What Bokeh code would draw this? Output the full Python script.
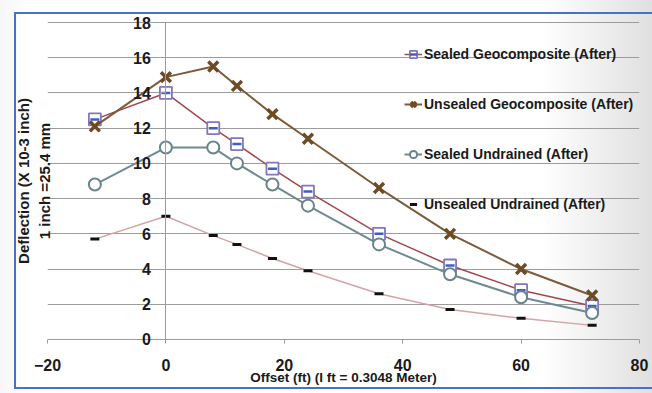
from bokeh.plotting import figure
from bokeh.models import LinearAxis, FixedTicker, Legend, LegendItem, Range1d
from bokeh.embed import file_html
from bokeh.resources import INLINE

# ---- data ----
offsets = [-12, 0, 8, 12, 18, 24, 36, 48, 60, 72]
sealed_geo = [12.5, 14.0, 12.0, 11.1, 9.7, 8.4, 6.0, 4.2, 2.8, 1.9]
unsealed_geo = [12.1, 14.9, 15.5, 14.4, 12.8, 11.4, 8.6, 6.0, 4.0, 2.5]
sealed_und = [8.8, 10.9, 10.9, 10.0, 8.8, 7.6, 5.4, 3.7, 2.4, 1.5]
unsealed_und = [5.7, 7.0, 5.9, 5.4, 4.6, 3.9, 2.6, 1.7, 1.2, 0.8]
series_names = ["Sealed Geocomposite (After)", "Unsealed Geocomposite (After)",
                "Sealed Undrained (After)", "Unsealed Undrained (After)"]
x_ticks = [-20, 0, 20, 40, 60, 80]
y_ticks = [0, 2, 4, 6, 8, 10, 12, 14, 16, 18]
x_label = "Offset (ft) (I ft = 0.3048 Meter)"
y_label = "Deflection (X 10-3 inch)\n1 inch =25.4 mm"

FONT = "Liberation Sans"
GRID = "#9c9c9c"
TXT = "#1a1a1a"
BLUE = "#4a72c4"

p = figure(width=652, height=393, x_range=Range1d(-20, 80), y_range=Range1d(-0.4, 18.4),
           output_backend="svg", toolbar_location=None, title=None,
           min_border_left=47, min_border_right=13, min_border_top=15, min_border_bottom=47)
frame_box = (
    f"linear-gradient({BLUE},{BLUE}) 14px 12px / 2px 377px no-repeat, "
    f"linear-gradient({BLUE},{BLUE}) 14px 12px / 640px 2px no-repeat, "
    f"linear-gradient({BLUE},{BLUE}) 14px 387px / 640px 2px no-repeat, "
    "linear-gradient(to right, #f7f7f7 0%, #ffffff 5%, #ffffff 83%, #e0e0e0 100%)"
)
p.styles = {"background": frame_box}
p.border_fill_color = None
p.background_fill_color = None
p.outline_line_color = None

# grid
p.xgrid.visible = False
p.ygrid.ticker = FixedTicker(ticks=y_ticks)
p.ygrid.grid_line_color = GRID
p.ygrid.grid_line_width = 1

# x axis (its line is the y = 0 grid line)
xa = p.xaxis[0]
xa.ticker = FixedTicker(ticks=x_ticks)
xa.axis_line_color = None
xa.major_tick_line_color = GRID
xa.major_tick_in = 7
xa.major_tick_out = -3
xa.minor_tick_line_color = None
xa.major_label_text_font = FONT
xa.major_label_text_font_style = "bold"
xa.major_label_text_font_size = "16px"
xa.major_label_text_color = TXT
xa.major_label_standoff = 12
xa.axis_label = x_label
xa.axis_label_text_font = FONT
xa.axis_label_text_font_style = "bold"
xa.axis_label_text_font_size = "13.5px"
xa.axis_label_text_color = TXT
xa.axis_label_standoff = -4

# default left axis: only carries the title
ya0 = p.yaxis[0]
ya0.ticker = FixedTicker(ticks=[])
ya0.axis_line_color = None
ya0.major_tick_line_color = None
ya0.minor_tick_line_color = None
ya0.major_label_text_font_size = "0px"
ya0.major_label_standoff = 0
ya0.major_tick_out = 0
ya0.axis_label = y_label
ya0.axis_label_text_font = FONT
ya0.axis_label_text_font_style = "bold"
ya0.axis_label_text_font_size = "15px"
ya0.axis_label_text_color = TXT
ya0.axis_label_standoff = -5

# y axis crossing at x = 0
ya = LinearAxis(fixed_location=0, ticker=FixedTicker(ticks=y_ticks), bounds=(0, 18))
ya.axis_line_color = GRID
ya.major_tick_line_color = GRID
ya.major_tick_out = 5
ya.major_tick_in = 0
ya.minor_tick_line_color = None
ya.major_label_text_font = FONT
ya.major_label_text_font_style = "bold"
ya.major_label_text_font_size = "16px"
ya.major_label_text_color = TXT
ya.major_label_standoff = 10
p.add_layout(ya, "left")

# series
l1 = p.line(offsets, sealed_geo, line_color="#a3474f", line_width=1.5)
m1a = p.scatter(offsets, sealed_geo, marker="square", size=12, fill_color="white",
                line_color="#8078bb", line_width=1.8)
m1b = p.scatter(offsets, sealed_geo, marker="dash", size=9, line_color="#3f5fc4", line_width=2.5)

l2 = p.line(offsets, unsealed_geo, line_color="#7b5b3a", line_width=2)
m2 = p.scatter(offsets, unsealed_geo, marker="x", size=14, line_color="#6e4a25", line_width=3.5)

l3 = p.line(offsets, sealed_und, line_color="#6f8a92", line_width=2)
m3 = p.scatter(offsets, sealed_und, marker="circle", size=12, fill_color="white",
               line_color="#6a848d", line_width=2)

l4 = p.line(offsets, unsealed_und, line_color="#d4a3a5", line_width=1.5)
m4 = p.scatter(offsets, unsealed_und, marker="dash", size=9, line_color="#111111", line_width=3)

legend = Legend(items=[
    LegendItem(label=series_names[0], renderers=[l1, m1a, m1b]),
    LegendItem(label=series_names[1], renderers=[l2, m2]),
    LegendItem(label=series_names[2], renderers=[l3, m3]),
    LegendItem(label=series_names[3], renderers=[m4]),
], location=(357, 132))
legend.border_line_color = None
legend.background_fill_color = None
legend.padding = 0
legend.margin = 0
legend.spacing = 30
legend.glyph_width = 18
legend.glyph_height = 20
legend.label_height = 20
legend.label_standoff = 2
legend.label_text_font = FONT
legend.label_text_font_style = "bold"
legend.label_text_font_size = "14px"
legend.label_text_color = TXT
p.add_layout(legend)

open("out.html", "w").write(file_html(p, INLINE))
